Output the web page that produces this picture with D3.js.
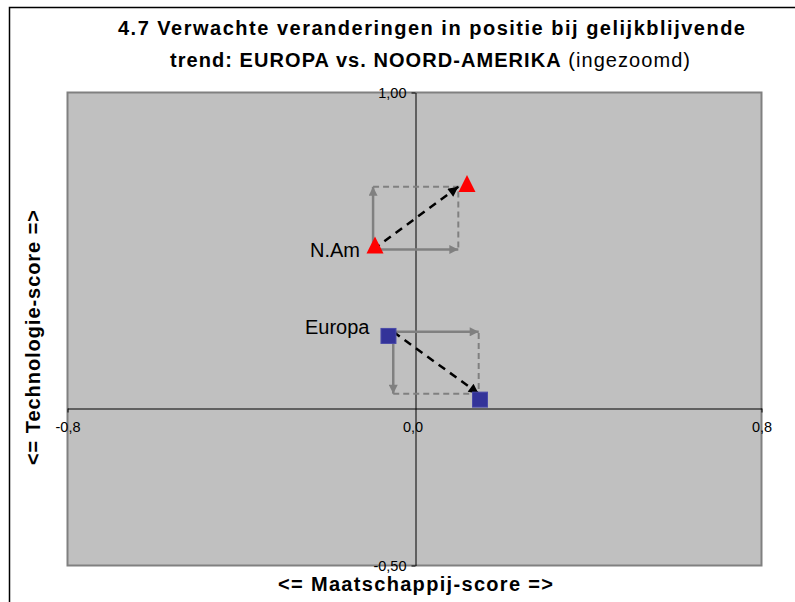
<!DOCTYPE html>
<html>
<head>
<meta charset="utf-8">
<script src="https://cdn.jsdelivr.net/npm/d3@7"></script>
<style>
  body { margin: 0; background: #fff; }
  svg { display: block; font-family: Arial, "Liberation Sans", sans-serif; }
</style>
</head>
<body>
<svg id="chart" width="795" height="602"></svg>
<script>
// Scores per region
const regions = ["Europa", "N.Am"];
// origin of the expected-change arrows
const fromX = [-0.049, -0.0955];
const fromY = [0.241, 0.502];
// target of the expected-change arrows
const toX = [0.148, 0.101];
const toY = [0.045, 0.701];
// current and expected positions (markers)
const nowX = [-0.060, -0.091];
const nowY = [0.228, 0.515];
const nextX = [0.151, 0.121];
const nextY = [0.026, 0.710];
const markerShape = ["square", "triangle"];
const markerColor = ["#333399", "#FF0000"];

const xTickValues = [-0.8, 0.0, 0.8];
const xTickLabels = ["-0,8", "0,0", "0,8"];
const yTickValues = [1.0, -0.5];
const yTickLabels = ["1,00", "-0,50"];

const titleLine1 = "4.7 Verwachte veranderingen in positie bij gelijkblijvende";
const titleLine2Bold = "trend: EUROPA vs. NOORD-AMERIKA";
const titleLine2Normal = " (ingezoomd)";
const xTitle = "<= Maatschappij-score =>";
const yTitle = "<= Technologie-score =>";

const font = "Arial, 'Liberation Sans', sans-serif";
const svg = d3.select("#chart");
const plot = { left: 67.5, right: 761.5, top: 92.5, bottom: 565.5 };

const x = d3.scaleLinear().domain([-0.8, 0.8]).range([plot.left, plot.right]);
const y = d3.scaleLinear().domain([-0.5, 1.0]).range([plot.bottom, plot.top]);

// outer frame
svg.append("path")
  .attr("d", "M9.5,610 V7.5 H800")
  .attr("fill", "none").attr("stroke", "#000").attr("stroke-width", 1.5);

// plot area
svg.append("rect")
  .attr("x", plot.left).attr("y", plot.top)
  .attr("width", plot.right - plot.left).attr("height", plot.bottom - plot.top)
  .attr("fill", "#C0C0C0").attr("stroke", "#808080").attr("stroke-width", 2);

// arrow heads
const defs = svg.append("defs");
function arrowHead(id, color, w, h) {
  defs.append("marker")
    .attr("id", id).attr("viewBox", "0 0 10 10")
    .attr("refX", 10).attr("refY", 5)
    .attr("markerUnits", "userSpaceOnUse")
    .attr("markerWidth", w).attr("markerHeight", h)
    .attr("orient", "auto")
    .append("path").attr("d", "M0,0 L10,5 L0,10 Z").attr("fill", color);
}
arrowHead("grayHead", "#808080", 11, 9);
arrowHead("blackHead", "#000", 12, 10);

// zero axes
const xAxis = d3.axisBottom(x).tickValues(xTickValues)
  .tickFormat((d, i) => xTickLabels[i]).tickSize(4).tickSizeOuter(0);
const gx = svg.append("g").attr("transform", `translate(0,${Math.round(y(0)) + 0.5})`).call(xAxis);
gx.select(".domain").attr("stroke", "#000");
gx.selectAll(".tick line").attr("stroke", "#000");
gx.selectAll(".tick text")
  .style("font-size", "14.5px").style("font-family", font).style("fill", "#000")
  .attr("y", 13).attr("dy", "0.71em");
gx.selectAll(".tick").filter(d => d === 0).select("line").remove();
gx.selectAll(".tick").filter(d => d === 0).select("text").attr("dx", -2);

const yAxis = d3.axisLeft(y).tickValues(yTickValues)
  .tickFormat((d, i) => yTickLabels[i]).tickSize(4).tickSizeOuter(0);
const gy = svg.append("g").attr("transform", `translate(${Math.round(x(0)) + 0.5},0)`).call(yAxis);
gy.select(".domain").attr("stroke", "#000");
gy.selectAll(".tick line").attr("stroke", "#000");
gy.selectAll(".tick text")
  .style("font-size", "14.5px").style("font-family", font).style("fill", "#000")
  .attr("x", -9);

// expected-change construction per region
regions.forEach((r, i) => {
  const g = svg.append("g");
  // dashed completion of the rectangle
  g.append("path")
    .attr("d", `M${x(fromX[i])},${y(toY[i])} H${x(toX[i])} V${y(fromY[i])}`)
    .attr("fill", "none").attr("stroke", "#808080").attr("stroke-width", 2)
    .attr("stroke-dasharray", "6,4");
  // horizontal component
  g.append("line")
    .attr("x1", x(fromX[i])).attr("y1", y(fromY[i]))
    .attr("x2", x(toX[i])).attr("y2", y(fromY[i]))
    .attr("stroke", "#808080").attr("stroke-width", 2.5)
    .attr("marker-end", "url(#grayHead)");
  // vertical component
  g.append("line")
    .attr("x1", x(fromX[i])).attr("y1", y(fromY[i]))
    .attr("x2", x(fromX[i])).attr("y2", y(toY[i]))
    .attr("stroke", "#808080").attr("stroke-width", 2.5)
    .attr("marker-end", "url(#grayHead)");
  // resulting shift
  g.append("line")
    .attr("x1", x(fromX[i])).attr("y1", y(fromY[i]))
    .attr("x2", x(toX[i])).attr("y2", y(toY[i]))
    .attr("stroke", "#000").attr("stroke-width", 2.5)
    .attr("stroke-dasharray", "8,6")
    .attr("marker-end", "url(#blackHead)");
});

// position markers
function drawMarker(px, py, shape, color) {
  if (shape === "square") {
    svg.append("rect")
      .attr("x", px - 7.5).attr("y", py - 7.5).attr("width", 15).attr("height", 15)
      .attr("fill", color).attr("stroke", "#4a4aa8").attr("stroke-width", 1);
  } else {
    svg.append("path")
      .attr("d", `M${px},${py - 9} L${px + 8.5},${py + 8} L${px - 8.5},${py + 8} Z`)
      .attr("fill", color);
  }
}
regions.forEach((r, i) => {
  drawMarker(x(nowX[i]), y(nowY[i]), markerShape[i], markerColor[i]);
  drawMarker(x(nextX[i]), y(nextY[i]), markerShape[i], markerColor[i]);
});

// region labels
svg.append("text").attr("x", x(nowX[0]) - 19).attr("y", y(nowY[0]) - 2)
  .attr("text-anchor", "end").attr("font-size", 20).attr("font-family", font)
  .text(regions[0]);
svg.append("text").attr("x", x(nowX[1]) - 15).attr("y", y(nowY[1]) + 12)
  .attr("text-anchor", "end").attr("font-size", 20).attr("font-family", font)
  .text(regions[1]);

// titles
svg.append("text").attr("x", 118).attr("y", 35)
  .attr("font-size", 20).attr("font-weight", "bold")
  .attr("textLength", 627).attr("lengthAdjust", "spacing")
  .text(titleLine1);
const t2 = svg.append("text").attr("x", 170).attr("y", 67)
  .attr("font-size", 20).attr("textLength", 520).attr("lengthAdjust", "spacing");
t2.append("tspan").attr("font-weight", "bold").text(titleLine2Bold);
t2.append("tspan").attr("font-weight", "normal").text(titleLine2Normal);

svg.append("text").attr("x", 278).attr("y", 591)
  .attr("font-size", 20).attr("font-weight", "bold")
  .attr("textLength", 275).attr("lengthAdjust", "spacing")
  .text(xTitle);
svg.append("text")
  .attr("transform", "translate(40,465) rotate(-90)")
  .attr("font-size", 20).attr("font-weight", "bold")
  .attr("textLength", 255).attr("lengthAdjust", "spacing")
  .text(yTitle);
</script>
</body>
</html>
